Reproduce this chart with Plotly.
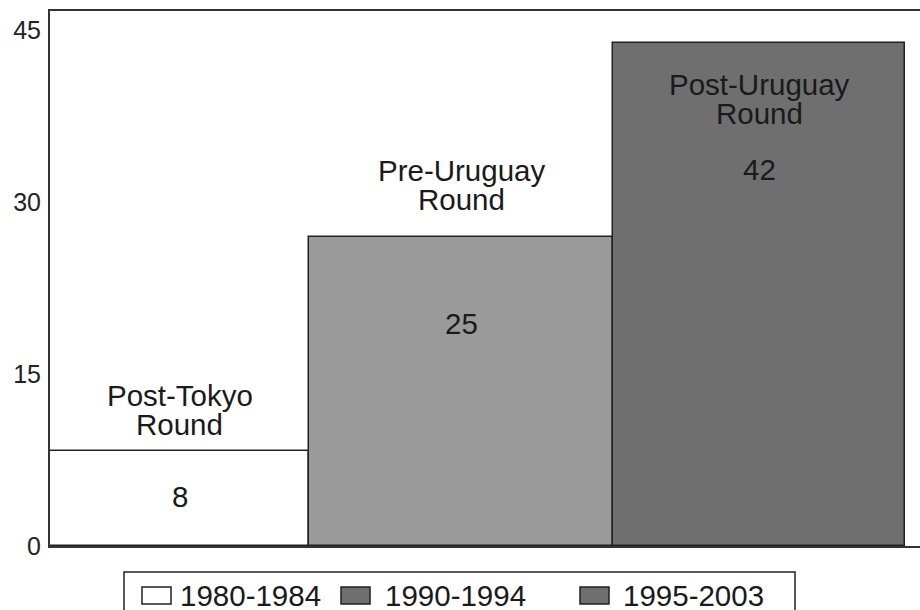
import plotly.graph_objects as go

# ---- data ----
rounds_line1 = ["Post-Tokyo", "Pre-Uruguay", "Post-Uruguay"]
rounds_line2 = ["Round", "Round", "Round"]
value_labels = ["8", "25", "42"]          # printed numbers
bar_heights = [8, 26, 42.3]               # heights as drawn
legend_labels = ["1980-1984", "1990-1994", "1995-2003"]
y_ticks = [0, 15, 30, 45]

# ---- style / layout constants ----
W, H = 920, 610
L, R, T, B = 50, 0, 11, 64
PW, PH = W - L - R, H - T - B
bar_edges = [0, 259, 563, 855]            # x-axis units (px-like)
bar_colors = ["#ffffff", "#9a9a9a", "#6f6f6f"]
legend_colors = ["#ffffff", "#6f6f6f", "#6f6f6f"]
label_y = [12.7, 31.6, 38.8]              # y of first label line
value_y = [4.2, 18.7, 31.7]
FONT = "Liberation Sans, Arial, sans-serif"
TXT = "#1a1a1a"
FS = 29.5
YMAX = 45

centers = [(bar_edges[i] + bar_edges[i + 1]) / 2 for i in range(3)]
widths = [bar_edges[i + 1] - bar_edges[i] for i in range(3)]

fig = go.Figure()
fig.add_trace(go.Bar(
    x=centers, y=bar_heights, width=widths,
    marker=dict(color=bar_colors, line=dict(color="#222222", width=1.5)),
    showlegend=False, hoverinfo="skip",
))
# invisible trace to carry tick-label axis
fig.add_trace(go.Scatter(x=[None], y=[None], yaxis="y2", showlegend=False))

annotations = []
common = dict(showarrow=False, yanchor="middle", borderpad=0,
              font=dict(family=FONT, size=FS, color=TXT))
for i in range(3):
    annotations.append(dict(x=centers[i], y=label_y[i], text=rounds_line1[i], **common))
    annotations.append(dict(x=centers[i], y=label_y[i], yshift=-29, text=rounds_line2[i], **common))
    annotations.append(dict(x=centers[i], y=value_y[i], text=value_labels[i], **common))

def px(xp):
    return (xp - L) / PW

def py(yp):
    return (H - B - yp) / PH

shapes = []
# legend box
shapes.append(dict(type="rect", xref="paper", yref="paper",
                   x0=px(124), x1=px(795), y0=py(625), y1=py(572),
                   line=dict(color="#222222", width=1.5), fillcolor="rgba(0,0,0,0)"))
sym_x = [142, 341, 580]
txt_x = [179, 384, 622]
for i in range(3):
    shapes.append(dict(type="rect", xref="paper", yref="paper",
                       x0=px(sym_x[i]), x1=px(sym_x[i] + 29), y0=py(604), y1=py(587),
                       line=dict(color="#222222", width=1.5), fillcolor=legend_colors[i]))
    annotations.append(dict(xref="paper", yref="paper", x=px(txt_x[i]), y=py(595),
                            xanchor="left", height=26, text=legend_labels[i], **common))

fig.update_layout(
    width=W, height=H,
    margin=dict(l=L, r=R, t=T, b=B, pad=0),
    paper_bgcolor="white", plot_bgcolor="white",
    bargap=0,
    xaxis=dict(range=[0, PW], showgrid=False, zeroline=False, showticklabels=False,
               ticks="", showline=True, mirror=True, linecolor="#333333", linewidth=2,
               fixedrange=True),
    yaxis=dict(range=[0, YMAX], showgrid=False, zeroline=False, showticklabels=False,
               ticks="", showline=True, linecolor="#333333", linewidth=2),
    yaxis2=dict(overlaying="y", side="left", range=[0, YMAX * 535 / 516],
                tickvals=y_ticks, ticktext=[str(v) for v in y_ticks],
                showgrid=False, zeroline=False, showline=False, ticks="",
                ticklabelstandoff=8,
                tickfont=dict(family=FONT, size=25, color="#222222")),
    annotations=annotations,
    shapes=shapes,
    showlegend=False,
)

fig.write_html("out.html", config={"displayModeBar": False},
               post_script="document.body.style.margin='0';document.body.style.overflow='hidden';")
